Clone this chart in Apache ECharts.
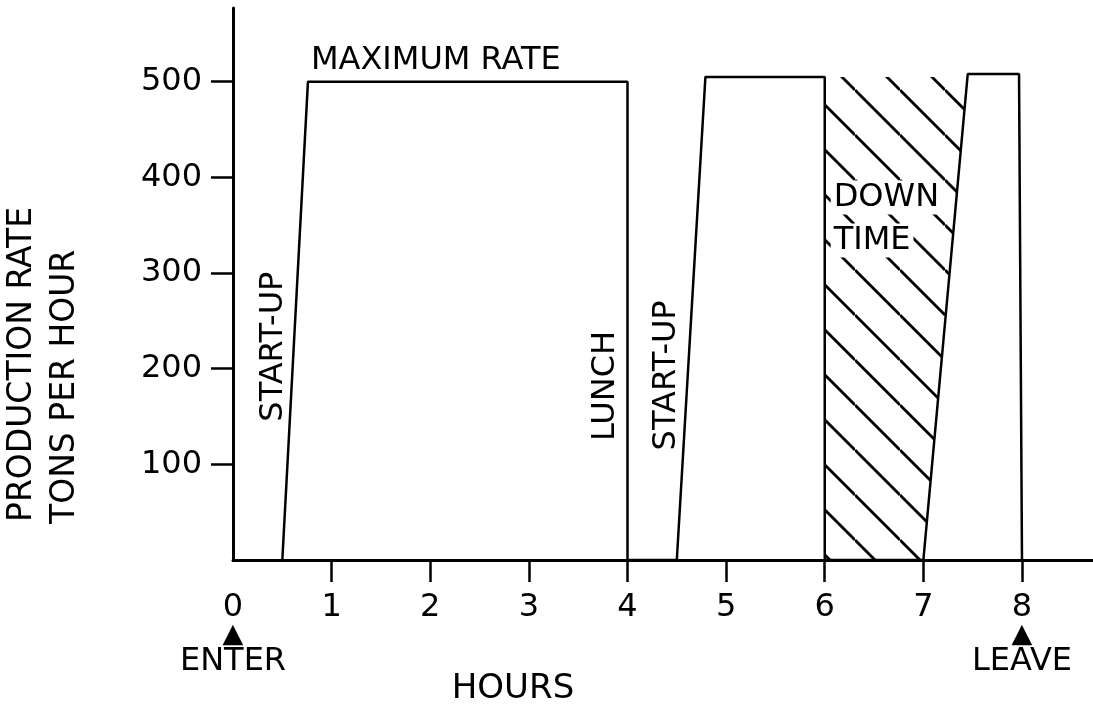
<!DOCTYPE html>
<html>
<head>
<meta charset="utf-8">
<script src="https://cdn.jsdelivr.net/npm/echarts@6/dist/echarts.min.js"></script>
<style>
  html, body { margin: 0; background: #fff; }
  #main { width: 1093px; height: 705px; }
</style>
</head>
<body>
<div id="main"></div>
<script>
// production profile over the shift
var hours = [0.5, 0.76, 4, 4, 4.5, 4.79, 6, 6, 7, 7.45, 7.97, 8];
var rate = [0, 500, 500, 0, 0, 505, 505, 0, 0, 508, 508, 0];
// down time (hatched)
var downHours = [6, 6, 7.44, 7];
var downRate = [0, 505, 505, 0];
// axis ticks
var xLabels = [0, 1, 2, 3, 4, 5, 6, 7, 8];
var xTicks = [1, 2, 3, 4, 5, 6, 7, 8];
var yTicks = [100, 200, 300, 400, 500];
var markers = { 0: 'ENTER', 8: 'LEAVE' };
// notes on the chart
var noteText = ['MAXIMUM RATE', 'START-UP', 'LUNCH', 'START-UP', 'DOWN', 'TIME'];
var noteX = [0.79, 0.41, 3.78, 4.40, 6.06, 6.06];
var noteY = [522, 223, 182, 193, 379, 334];
var noteRot = [0, 90, 90, 90, 0, 0];

var FONT = 'DejaVu Sans';

function hatch() {
    var s = 45, c = document.createElement('canvas');
    c.width = s; c.height = s;
    var g = c.getContext('2d');
    g.strokeStyle = '#000';
    g.lineWidth = 2.8;
    [-s, 0, s].forEach(function (k) {
        g.beginPath();
        g.moveTo(0, k);
        g.lineTo(s, s + k);
        g.stroke();
    });
    return c;
}

var chart = echarts.init(document.getElementById('main'));

var notes = noteText.map(function (t, i) {
    var lbl = { rotate: noteRot[i] };
    if (noteRot[i] === 0) lbl.align = 'left';
    if (t === 'DOWN' || t === 'TIME') {
        lbl.backgroundColor = '#fff';
        lbl.padding = [1, 3];
    }
    return { name: t, value: [noteX[i], noteY[i]], label: lbl };
});

var option = {
    animation: false,
    backgroundColor: '#fff',
    grid: { left: 233, right: 0, top: 8, bottom: 145, outerBoundsMode: 'none' },
    xAxis: {
        type: 'value', min: 0, max: 8.72,
        splitLine: { show: false },
        axisLine: { lineStyle: { color: '#000', width: 3 } },
        axisTick: { customValues: xTicks, length: 22, lineStyle: { color: '#000', width: 2.5 } },
        axisLabel: {
            customValues: xLabels,
            margin: 32,
            color: '#000',
            formatter: function (v) {
                if (markers[v]) return '{n|' + v + '}\n{t|▲}\n{w|' + markers[v] + '}';
                return '{n|' + v + '}';
            },
            rich: {
                n: { fontFamily: FONT, fontSize: 32, lineHeight: 32, color: '#000' },
                t: { fontFamily: FONT, fontSize: 27, lineHeight: 22, color: '#000' },
                w: { fontFamily: FONT, fontSize: 32, lineHeight: 32, color: '#000' }
            }
        }
    },
    yAxis: {
        type: 'value', min: 0, max: 577,
        splitLine: { show: false },
        axisLine: { lineStyle: { color: '#000', width: 3 } },
        axisTick: { customValues: yTicks, length: 22, lineStyle: { color: '#000', width: 2.5 } },
        axisLabel: { customValues: yTicks, margin: 31, color: '#000', fontFamily: FONT, fontSize: 32 }
    },
    graphic: [
        { type: 'text', x: 22, y: 522, rotation: Math.PI / 2,
          style: { text: 'PRODUCTION RATE', fontFamily: FONT, fontSize: 33, fill: '#000', align: 'left', verticalAlign: 'middle' } },
        { type: 'text', x: 65, y: 524, rotation: Math.PI / 2,
          style: { text: 'TONS PER HOUR', fontFamily: FONT, fontSize: 33, fill: '#000', align: 'left', verticalAlign: 'middle' } },
        { type: 'text', x: 513, y: 689,
          style: { text: 'HOURS', fontFamily: FONT, fontSize: 34, fill: '#000', align: 'center', verticalAlign: 'middle' } }
    ],
    series: [
        {
            type: 'line', z: 1, silent: true, symbol: 'none',
            data: downHours.map(function (h, i) { return [h, downRate[i]]; }),
            lineStyle: { width: 0 },
            areaStyle: { color: { image: hatch(), repeat: 'repeat' }, opacity: 1 }
        },
        {
            type: 'line', z: 3, silent: true, symbol: 'none',
            data: hours.map(function (h, i) { return [h, rate[i]]; }),
            lineStyle: { color: '#000', width: 2.5 }
        },
        {
            type: 'scatter', z: 4, silent: true, symbolSize: 1,
            itemStyle: { color: 'transparent', opacity: 1 },
            label: { show: true, position: 'inside', formatter: '{b}', color: '#000', opacity: 1, fontFamily: FONT, fontSize: 32 },
            data: notes
        }
    ]
};
chart.setOption(option);
</script>
</body>
</html>
